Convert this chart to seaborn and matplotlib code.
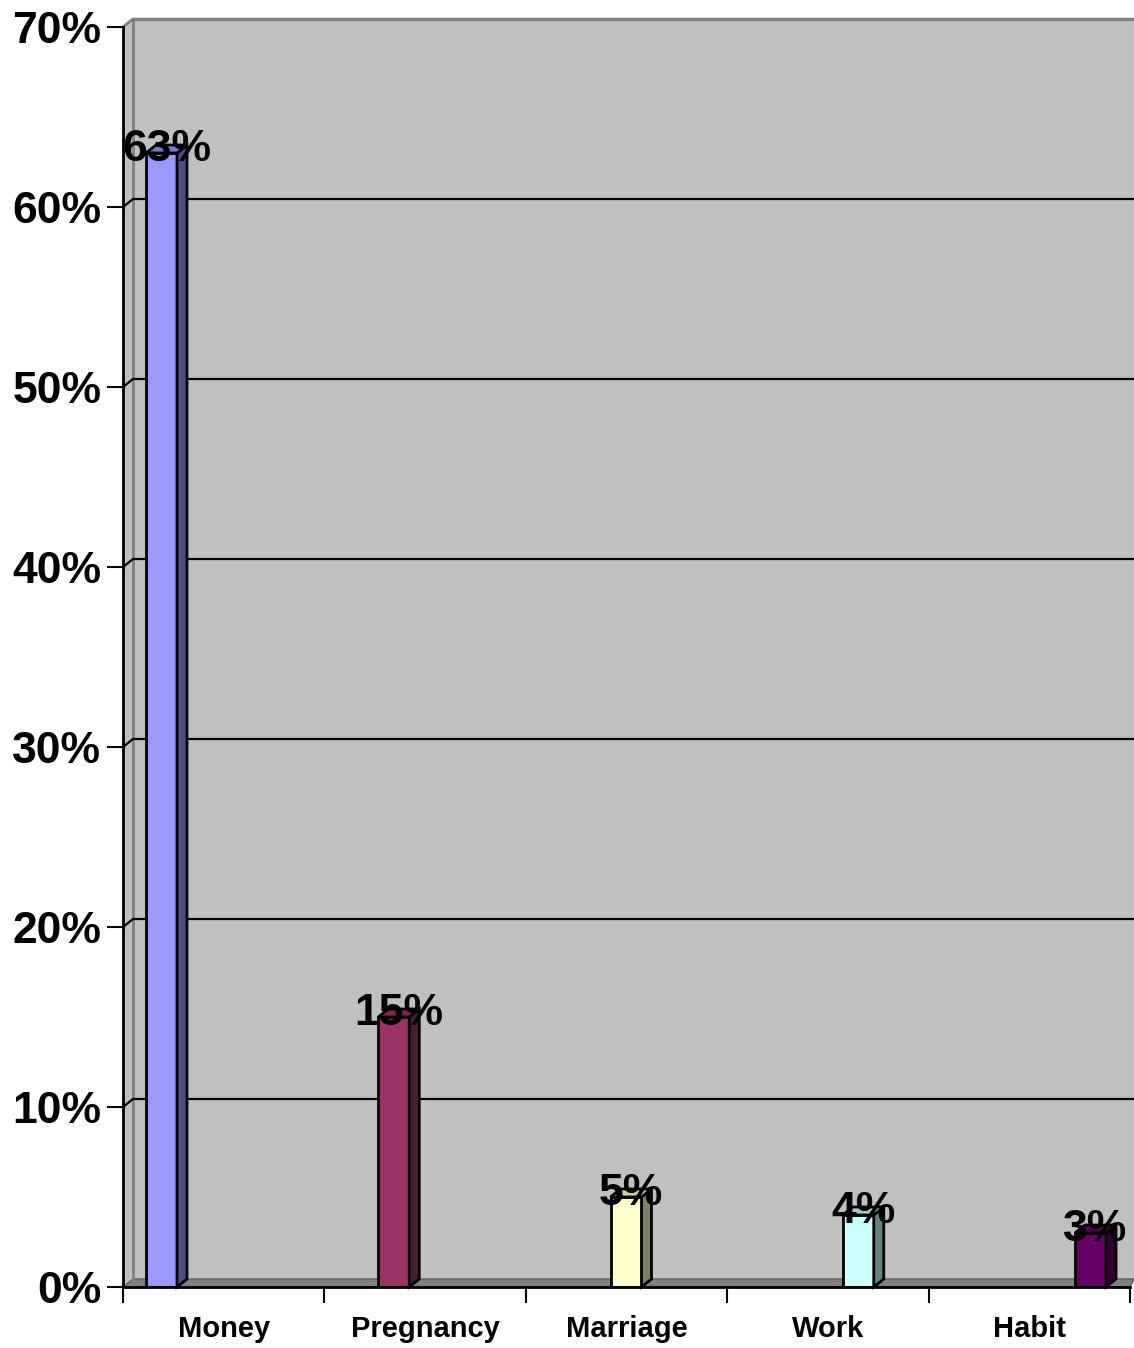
import matplotlib
matplotlib.use("Agg")
import matplotlib.pyplot as plt
import seaborn as sns
from matplotlib.colors import to_rgb

# Reasons given (share of respondents, %)
categories = ["Money", "Pregnancy", "Marriage", "Work", "Habit"]
values = [63, 15, 5, 4, 3]
bar_colors = ["#9999FF", "#993366", "#FFFFCC", "#CCFFFF", "#660066"]
y_ticks = [0, 10, 20, 30, 40, 50, 60, 70]
y_tick_labels = ["0%", "10%", "20%", "30%", "40%", "50%", "60%", "70%"]

sns.set_style("white")
plt.rcParams["font.family"] = ["Liberation Sans", "DejaVu Sans"]
plt.rcParams["text.color"] = "black"
plt.rcParams["xtick.color"] = "black"
plt.rcParams["ytick.color"] = "black"

W, H = 1134, 1348
fig = plt.figure(figsize=(W / 100, H / 100), dpi=100)

# frame of the front plane, in pixels
L, R, B, T = 123, 1130, 1287, 27
ax = fig.add_axes([L / W, 1 - B / H, (R - L) / W, (B - T) / H])

pitch = 232.25          # horizontal spacing between bars (px)
first_center = 161.5    # centre of the first bar (px)


def px2x(p):
    return (p - first_center) / pitch


px_per_unit = (B - T) / 70.0
dx = 10 / pitch          # depth offset of the 3-D effect, x
dy = 8 / px_per_unit     # depth offset of the 3-D effect, y

wall_gray = "#C0C0C0"
edge_gray = "#808080"

# back wall
xb0, xb1 = px2x(133), px2x(1134)
ax.fill([xb0, xb1, xb1, xb0], [dy, dy, 70 + dy, 70 + dy],
        color=wall_gray, lw=0, zorder=0.1, clip_on=False)
ax.plot([xb0, xb1], [70 + dy, 70 + dy], color=edge_gray, lw=2.5,
        zorder=0.3, clip_on=False, solid_capstyle="butt")
# side wall
xl = px2x(123)
ax.fill([xl, xb0, xb0, xl], [0, dy, 70 + dy, 70], color=wall_gray,
        lw=0, zorder=0.1, clip_on=False)
ax.plot([xb0, xb0], [dy, 70 + dy], color=edge_gray, lw=2,
        zorder=0.3, clip_on=False)
ax.plot([xl, xb0], [70, 70 + dy], color=edge_gray, lw=2,
        zorder=0.3, clip_on=False)
# floor
xr = px2x(1130)
ax.fill([xl, xb0, xb1, xr], [0, dy, dy, 0], facecolor=edge_gray,
        edgecolor="#606060", lw=1, zorder=0.2, clip_on=False)

# gridlines on the walls
for yv in y_ticks[1:-1]:
    ax.plot([xl, xb0, xb1], [yv, yv + dy, yv + dy], color="black",
            lw=1.6, zorder=0.5, clip_on=False)

# bars
sns.barplot(x=categories, y=values, hue=categories, order=categories,
            hue_order=categories, palette=bar_colors, saturation=1,
            width=31 / pitch, edgecolor="black", linewidth=2,
            legend=False, ax=ax, zorder=3)


def shade(c, f):
    r, g, b = to_rgb(c)
    return (r * f, g * f, b * f)


bars = sorted([p for cont in ax.containers for p in cont],
              key=lambda p: p.get_x())

for patch, v, c in zip(bars, values, bar_colors):
    x_left = patch.get_x()
    x_right = x_left + patch.get_width()
    # side face
    ax.fill([x_right, x_right + dx, x_right + dx, x_right],
            [0, dy, v + dy, v], facecolor=shade(c, 0.5),
            edgecolor="black", lw=2, zorder=3, clip_on=False)
    # top face
    ax.fill([x_left, x_right, x_right + dx, x_left + dx],
            [v, v, v + dy, v + dy], facecolor=shade(c, 0.8),
            edgecolor="black", lw=2, zorder=3, clip_on=False)
    ax.text((x_left + x_right + dx) / 2, v - dy, f"{v}%", ha="center",
            va="baseline", fontsize=32, fontweight="bold", color="black",
            zorder=6, clip_on=False)

ax.set_facecolor("none")
ax.set_xlim(px2x(L), px2x(R))
ax.set_ylim(0, 70)
ax.set_xlabel("")
ax.set_ylabel("")

# y axis
ax.set_yticks(y_ticks)
ax.set_yticklabels(y_tick_labels, fontsize=32, fontweight="bold")
ax.tick_params(axis="y", direction="out", length=11.5, width=1.5,
               pad=4, left=True, colors="black")

# x axis: boundary ticks, category names centred between them
cat_pitch = (R - L) / len(categories)
ax.set_xticks([px2x(L + cat_pitch * k) for k in range(len(categories) + 1)])
ax.set_xticklabels([])
ax.set_xticks([px2x(L + cat_pitch * (k + 0.5)) for k in range(len(categories))],
              minor=True)
ax.set_xticklabels(categories, minor=True, fontsize=21, fontweight="bold")
ax.tick_params(axis="x", which="major", direction="out", length=11.5,
               width=1.5, bottom=True, colors="black")
ax.tick_params(axis="x", which="minor", length=0, pad=20, colors="black")

for side in ("top", "right"):
    ax.spines[side].set_visible(False)
for side in ("left", "bottom"):
    ax.spines[side].set_color("black")
    ax.spines[side].set_linewidth(2)
    ax.spines[side].set_zorder(4)

fig.savefig("out.png", dpi=100, facecolor="white")
